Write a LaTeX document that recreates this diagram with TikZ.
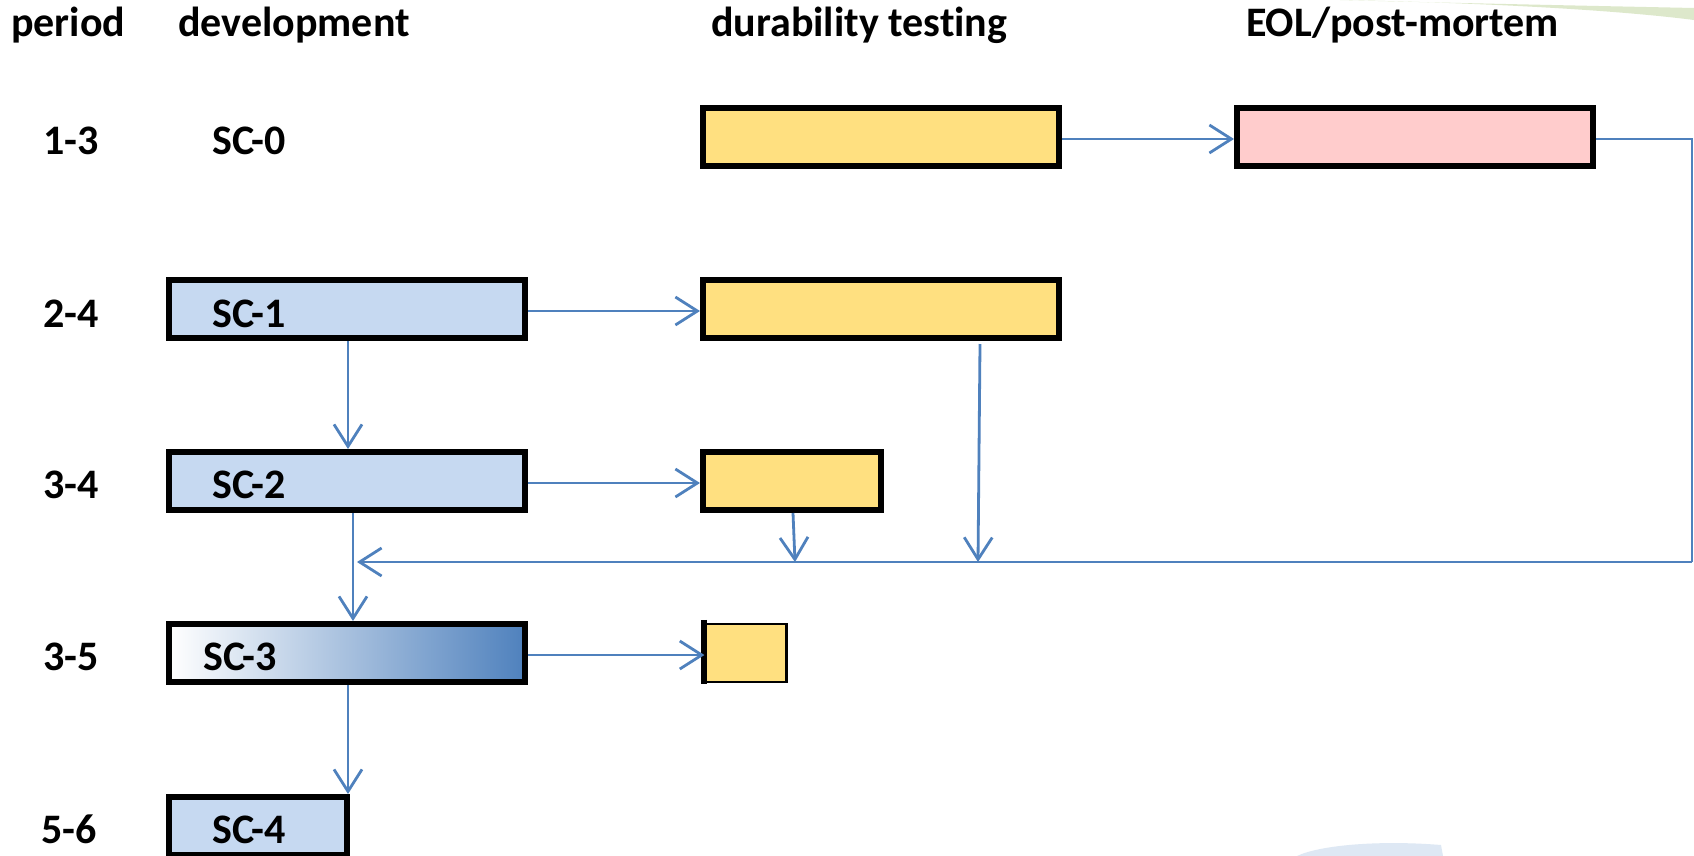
\documentclass[tikz,border=0pt]{standalone}
\usepackage{fontspec}
\setmainfont[Ligatures={NoCommon}]{Carlito}
\usetikzlibrary{arrows.meta,calc}
\definecolor{arrblue}{HTML}{4F81BD}
\definecolor{boxblue}{HTML}{C6D9F1}
\definecolor{boxyellow}{HTML}{FFE080}
\definecolor{boxpink}{HTML}{FFCCCC}
\definecolor{wmgreen}{HTML}{D5E3BF}
\definecolor{wmblue}{HTML}{DEE8F4}
\tikzset{
  lbl/.style={anchor=base west, inner sep=0pt, font=\fontsize{42}{50}\selectfont\bfseries},
  box/.style={draw=black, line width=6pt, inner sep=0pt, minimum height=58pt},
  arr/.style={draw=arrblue, line width=2.8pt, -{Straight Barb[length=22pt,width=28pt]}},
  fbline/.style={draw=arrblue, line width=2.8pt},
}
\begin{document}
\begin{tikzpicture}[x=1pt,y=-1pt]
\useasboundingbox (0,0) rectangle (1694,855);
\fill[white] (0,0) rectangle (1694,855);
\begin{scope}
\clip (0,0) rectangle (1694,855);
% watermark swooshes
\fill[wmgreen, opacity=0.8] (1340,0) .. controls (1450,3) and (1600,6) .. (1694,8) -- (1694,20) .. controls (1600,8) and (1450,2) .. (1340,0) -- cycle;
\fill[wmgreen, opacity=0.8] (1380,-10) rectangle (1694,0);
\fill[wmblue] (1297,856) .. controls (1320,845) and (1380,840) .. (1441,845) -- (1443,856) -- cycle;
\end{scope}

% headers
\node[lbl] (hper) at (11,36) {period};
\node[lbl] (hdev) at (178,36) {development};
\node[lbl] (hdur) at (711,36) {durability testing};
\node[lbl] (heol) at (1246,36) {EOL/post-mortem};

% row labels
\node[lbl] (r1) at (43,154) {1-3};
\node[lbl] (r2) at (43,327) {2-4};
\node[lbl] (r3) at (43,498) {3-4};
\node[lbl] (r4) at (43,670) {3-5};
\node[lbl] (r5) at (41,843) {5-6};

% boxes
\node[box, fill=boxyellow, minimum width=356pt] (y0) at (881,137) {};
\node[box, fill=boxpink, minimum width=356pt] (pk) at (1415,137) {};
\node[box, fill=boxblue, minimum width=356pt] (sc1) at (347,309) {};
\node[box, fill=boxyellow, minimum width=356pt] (y1) at (881,309) {};
\node[box, fill=boxblue, minimum width=356pt] (sc2) at (347,481) {};
\node[box, fill=boxyellow, minimum width=178pt] (y2) at (792,481) {};
\node[box, left color=white, right color=arrblue, minimum width=356pt] (sc3) at (347,653) {};
\node[draw=black, line width=2.2pt, fill=boxyellow, inner sep=0pt, minimum width=81pt, minimum height=58pt] (y3) at (746,653) {};
\draw[line width=6pt] ([yshift=3pt]y3.north west) -- ([yshift=-1pt]y3.south west);
\node[box, fill=boxblue, minimum width=178pt] (sc4) at (258,826) {};

% box labels
\node[lbl] (t0) at (212,154) {SC-0};
\node[lbl] (t1) at (212,327) {SC-1};
\node[lbl] (t2) at (212,498) {SC-2};
\node[lbl] (t3) at (203,670) {SC-3};
\node[lbl] (t4) at (212,843) {SC-4};

% connectors
\draw[arr] ([yshift=-2pt]y0.east) -- ([yshift=-2pt]pk.west);
\draw[arr] ([yshift=-2pt]sc1.east) -- ([yshift=-2pt]y1.west);
\draw[arr] ([yshift=-2pt]sc2.east) -- ([yshift=-2pt]y2.west);
\draw[arr] ([yshift=-2pt]sc3.east) -- ([yshift=-2pt]y3.west);
\draw[arr] ([xshift=1pt]sc1.south) -- ([xshift=1pt]sc2.north);
\draw[arr] ([xshift=6pt]sc2.south) -- ([xshift=6pt]sc3.north);
\draw[arr] ([xshift=1pt]sc3.south) -- ([xshift=1pt]sc3.south |- sc4.north);

% feedback loop
\coordinate (fbA) at (1692,139);
\coordinate (fbB) at (1692,562);
\coordinate (fbEnd) at (357,562);
\coordinate (d1s) at (980,344);
\coordinate (d1e) at (978,562);
\coordinate (d2e) at (795,562);
\draw[fbline] ([yshift=-2pt]pk.east) -- (fbA) -- (fbB);
\draw[arr] (fbB) -- (fbEnd);
\draw[arr] ([xshift=1pt]y2.south) -- (d2e);
\draw[arr] (d1s) -- (d1e);
\end{tikzpicture}
\end{document}
